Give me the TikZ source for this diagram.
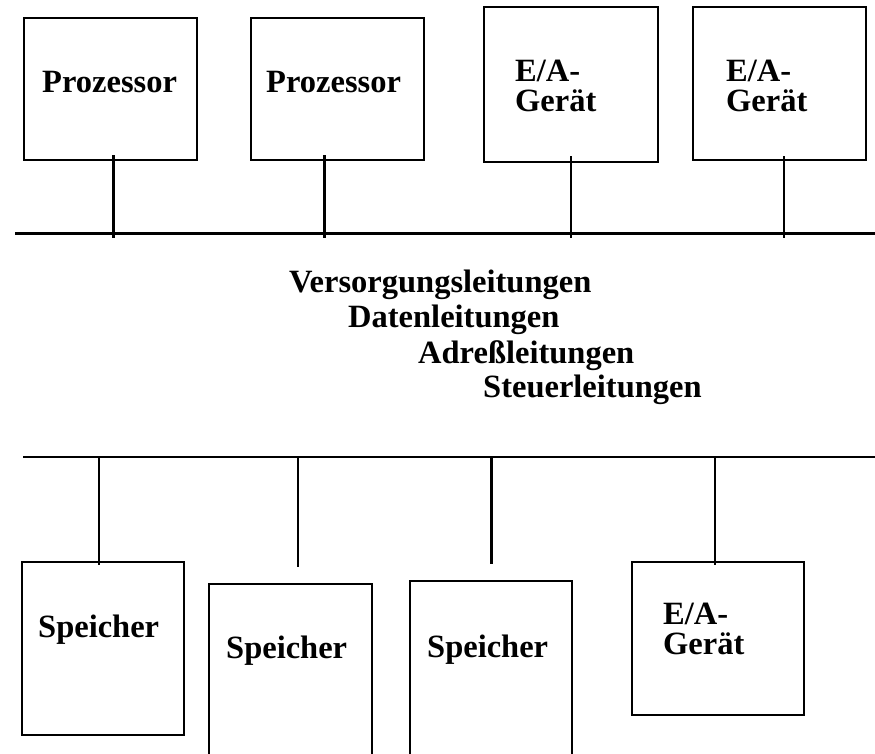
\documentclass[tikz,border=0pt]{standalone}
\usepackage{fontspec}
\setmainfont{Liberation Serif}
\begin{document}
\begin{tikzpicture}[x=1pt,y=-1pt,
  unit/.style={draw, line width=1.3pt, inner sep=0pt, outer sep=0pt},
  lbl/.style={anchor=base west, inner sep=0pt, font=\fontsize{32.5}{28}\selectfont\bfseries},
  heavybus/.style={line width=3pt},
  lightbus/.style={line width=1.6pt},
  heavytap/.style={line width=3pt},
  lighttap/.style={line width=1.3pt}]
\useasboundingbox (0,0) rectangle (875,753);

% top row of units
\node[unit, minimum width=173pt, minimum height=142pt] (b1) at (110.5,89) {};
\node[unit, minimum width=173pt, minimum height=142pt] (b2) at (337.5,89) {};
\node[unit, minimum width=174pt, minimum height=155pt] (b3) at (571,84.5) {};
\node[unit, minimum width=173pt, minimum height=153pt] (b4) at (779.5,83.5) {};

\node[lbl] (l1) at (42,92) {Prozessor};
\node[lbl] (l2) at (266,92) {Prozessor};
\node[lbl] (l3) at (515,81) {\begin{tabular}[t]{@{}l@{}}E/A-\\Gerät\end{tabular}};
\node[lbl] (l4) at (726,81) {\begin{tabular}[t]{@{}l@{}}E/A-\\Gerät\end{tabular}};

% upper bus
\coordinate (busA0) at (15,233);
\coordinate (busA1) at (875,233);
\draw[heavybus] (busA0) -- (busA1);

\coordinate (v1) at (113,238);
\coordinate (v2) at (324,238);
\coordinate (v3) at (571,238);
\coordinate (v4) at (784,238);
% taps start a little inside the unit frames (yshift is in page units, upwards)
\draw[heavytap] ([yshift=5pt]b1.south -| v1) -- (v1);
\draw[heavytap] ([yshift=5pt]b2.south -| v2) -- (v2);
\draw[lighttap] ([yshift=6pt]b3.south -| v3) -- (v3);
\draw[lighttap] ([yshift=4pt]b4.south -| v4) -- (v4);

% bus signal groups
\node[lbl] (s1) at (289,292) {Versorgungsleitungen};
\node[lbl] (s2) at (348,327) {Datenleitungen};
\node[lbl] (s3) at (418,363) {Adreßleitungen};
\node[lbl] (s4) at (483,397) {Steuerleitungen};

% lower bus
\coordinate (busB0) at (23,457);
\coordinate (busB1) at (875,457);
\draw[lightbus] (busB0) -- (busB1);

\coordinate (u5) at (99,457);
\coordinate (u6) at (298,457);
\coordinate (u7) at (491,457);
\coordinate (u8) at (715,457);

% bottom row of units
\node[unit, minimum width=162pt, minimum height=173pt] (b5) at (103,648.5) {};
\node[unit, minimum width=163pt, minimum height=176pt] (b6) at (290.5,672) {};
\node[unit, minimum width=162pt, minimum height=179pt] (b7) at (491,670.5) {};
\node[unit, minimum width=172pt, minimum height=153pt] (b8) at (718,638.5) {};

\coordinate (v6) at (298,567);
\coordinate (v7) at (491,564);
\draw[lighttap] (u5) -- ([yshift=-3pt]b5.north -| u5);
\draw[lighttap] (u6) -- (v6);
\draw[heavytap] (u7) -- (v7);
\draw[lighttap] (u8) -- ([yshift=-3pt]b8.north -| u8);

\node[lbl] (l5) at (38,637) {Speicher};
\node[lbl] (l6) at (226,658) {Speicher};
\node[lbl] (l7) at (427,657) {Speicher};
\node[lbl] (l8) at (663,624) {\begin{tabular}[t]{@{}l@{}}E/A-\\Gerät\end{tabular}};
\end{tikzpicture}
\end{document}
